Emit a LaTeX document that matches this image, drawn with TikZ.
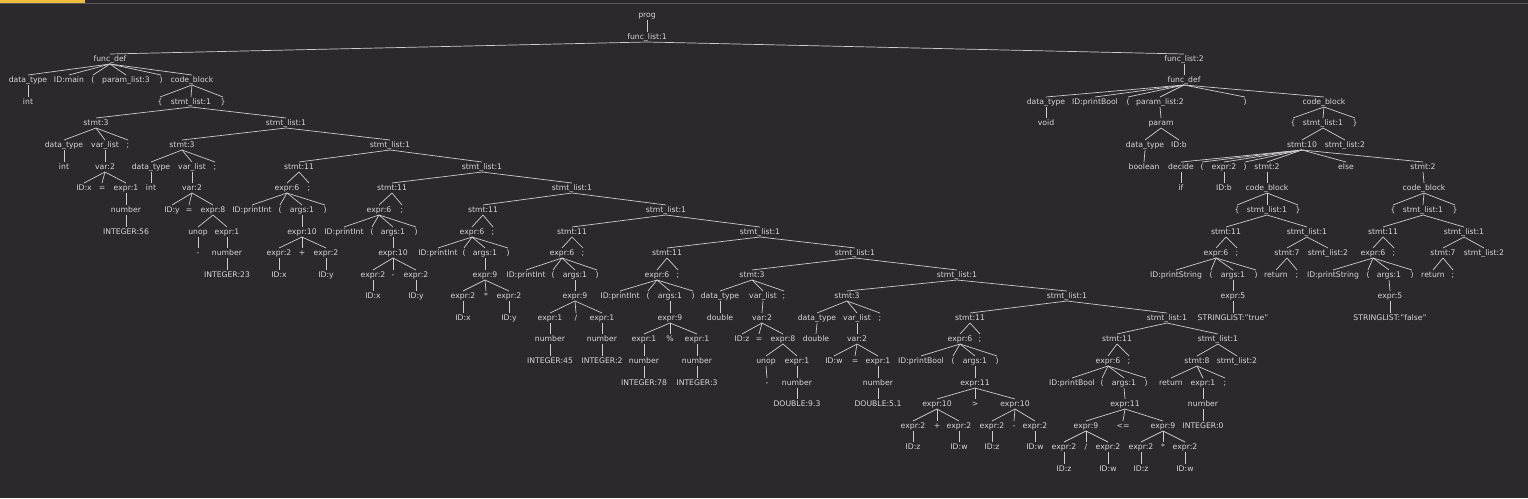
\documentclass[tikz,border=0pt]{standalone}
\usepackage{fontspec}
\setmainfont{DejaVu Sans}
\definecolor{bgcol}{RGB}{43,41,45}
\definecolor{txtcol}{RGB}{214,214,214}
\definecolor{linecol}{RGB}{205,205,205}
\definecolor{tabcol}{RGB}{240,190,60}
\definecolor{barcol}{RGB}{88,86,90}
\tikzset{
  tok/.style={text=txtcol, font=\fontsize{7.7}{8}\selectfont, inner sep=0.8pt, text height=6.5pt, text depth=1.5pt},
  every edge/.style={draw=linecol, line width=0.7pt}
}

\begin{document}
\begin{tikzpicture}[x=1pt,y=-1pt]
\fill[bgcol] (0,0) rectangle (1528,498);
\useasboundingbox (0,0) rectangle (1528,498);
\fill[barcol] (0,2.8) rectangle (1528,3.9);
\fill[tabcol] (0,0) rectangle (85,2.7);

\node[tok] (prog) at (647,15) {prog};
\node[tok] (fl1) at (647,37) {func\_list:1};

\node[tok] (fdA) at (110,59) {func\_def};
\node[tok] (dtA) at (28,80) {data\_type};
\node[tok] (idA) at (69,80) {ID:main};
\node[tok] (lpA) at (93,80) {(};
\node[tok] (plA) at (126,80) {param\_list:3};
\node[tok] (rpA) at (161,80) {)};
\node[tok] (cbA) at (192,80) {code\_block};
\node[tok] (tyA) at (28,102) {int};
\node[tok] (lbA) at (160,102) {\{};
\node[tok] (sl0) at (191,102) {stmt\_list:1};
\node[tok] (rbA) at (223,102) {\}};

\node[tok] (st0) at (96,123) {stmt:3};
\node[tok] (sl1) at (286,123) {stmt\_list:1};
\node[tok] (st0dt) at (64,145) {data\_type};
\node[tok] (st0vl) at (105,145) {var\_list};
\node[tok] (st0sc) at (128,145) {;};
\node[tok] (st0ty) at (64,167) {int};
\node[tok] (st0var) at (105,167) {var:2};
\node[tok] (st0id) at (84,188) {ID:x};
\node[tok] (st0eq) at (102,188) {=};
\node[tok] (st0ex) at (126,188) {expr:1};
\node[tok] (st0num) at (126,210) {number};
\node[tok] (st0lit) at (126,232) {INTEGER:56};

\node[tok] (st1) at (182,145) {stmt:3};
\node[tok] (sl2) at (390,145) {stmt\_list:1};
\node[tok] (st1dt) at (151,167) {data\_type};
\node[tok] (st1vl) at (192,167) {var\_list};
\node[tok] (st1sc) at (215,167) {;};
\node[tok] (st1ty) at (151,188) {int};
\node[tok] (st1var) at (192,188) {var:2};
\node[tok] (st1id) at (172,210) {ID:y};
\node[tok] (st1eq) at (189,210) {=};
\node[tok] (st1ex) at (213,210) {expr:8};
\node[tok] (st1un) at (198,232) {unop};
\node[tok] (st1e1) at (227,232) {expr:1};
\node[tok] (st1neg) at (198,253) {-};
\node[tok] (st1num) at (227,253) {number};
\node[tok] (st1lit) at (227,275) {INTEGER:23};

\node[tok] (st2) at (299,167) {stmt:11};
\node[tok] (sl3) at (482,167) {stmt\_list:1};
\node[tok] (st2ex) at (287,188) {expr:6};
\node[tok] (st2sc) at (309,188) {;};
\node[tok] (st2fn) at (252,210) {ID:printInt};
\node[tok] (st2lp) at (280,210) {(};
\node[tok] (st2ar) at (302,210) {args:1};
\node[tok] (st2rp) at (325,210) {)};
\node[tok] (st2op) at (302,232) {expr:10};
\node[tok] (st2a) at (279,253) {expr:2};
\node[tok] (st2o) at (302,253) {+};
\node[tok] (st2b) at (326,253) {expr:2};
\node[tok] (st2ai) at (279,275) {ID:x};
\node[tok] (st2bi) at (326,275) {ID:y};

\node[tok] (st3) at (392,188) {stmt:11};
\node[tok] (sl4) at (572,188) {stmt\_list:1};
\node[tok] (st3ex) at (379,210) {expr:6};
\node[tok] (st3sc) at (402,210) {;};
\node[tok] (st3fn) at (344,232) {ID:printInt};
\node[tok] (st3lp) at (372,232) {(};
\node[tok] (st3ar) at (393,232) {args:1};
\node[tok] (st3rp) at (416,232) {)};
\node[tok] (st3op) at (393,253) {expr:10};
\node[tok] (st3a) at (373,275) {expr:2};
\node[tok] (st3o) at (393,275) {-};
\node[tok] (st3b) at (416,275) {expr:2};
\node[tok] (st3ai) at (373,296) {ID:x};
\node[tok] (st3bi) at (416,296) {ID:y};

\node[tok] (st4) at (483,210) {stmt:11};
\node[tok] (sl5) at (666,210) {stmt\_list:1};
\node[tok] (st4ex) at (472,232) {expr:6};
\node[tok] (st4sc) at (493,232) {;};
\node[tok] (st4fn) at (438,253) {ID:printInt};
\node[tok] (st4lp) at (464,253) {(};
\node[tok] (st4ar) at (485,253) {args:1};
\node[tok] (st4rp) at (508,253) {)};
\node[tok] (st4op) at (485,275) {expr:9};
\node[tok] (st4a) at (463,296) {expr:2};
\node[tok] (st4o) at (486,296) {*};
\node[tok] (st4b) at (509,296) {expr:2};
\node[tok] (st4ai) at (463,318) {ID:x};
\node[tok] (st4bi) at (509,318) {ID:y};

\node[tok] (st5) at (572,232) {stmt:11};
\node[tok] (sl6) at (760,232) {stmt\_list:1};
\node[tok] (st5ex) at (562,253) {expr:6};
\node[tok] (st5sc) at (583,253) {;};
\node[tok] (st5fn) at (526,275) {ID:printInt};
\node[tok] (st5lp) at (553,275) {(};
\node[tok] (st5ar) at (575,275) {args:1};
\node[tok] (st5rp) at (597,275) {)};
\node[tok] (st5op) at (575,296) {expr:9};
\node[tok] (st5a) at (550,318) {expr:1};
\node[tok] (st5o) at (576,318) {/};
\node[tok] (st5b) at (602,318) {expr:1};
\node[tok] (st5an) at (550,339) {number};
\node[tok] (st5bn) at (602,339) {number};
\node[tok] (st5al) at (550,361) {INTEGER:45};
\node[tok] (st5bl) at (602,361) {INTEGER:2};

\node[tok] (st6) at (667,253) {stmt:11};
\node[tok] (sl7) at (855,253) {stmt\_list:1};
\node[tok] (st6ex) at (657,275) {expr:6};
\node[tok] (st6sc) at (678,275) {;};
\node[tok] (st6fn) at (620,296) {ID:printInt};
\node[tok] (st6lp) at (648,296) {(};
\node[tok] (st6ar) at (670,296) {args:1};
\node[tok] (st6rp) at (693,296) {)};
\node[tok] (st6op) at (670,318) {expr:9};
\node[tok] (st6a) at (644,339) {expr:1};
\node[tok] (st6o) at (670,339) {\%};
\node[tok] (st6b) at (697,339) {expr:1};
\node[tok] (st6an) at (644,361) {number};
\node[tok] (st6bn) at (697,361) {number};
\node[tok] (st6al) at (644,383) {INTEGER:78};
\node[tok] (st6bl) at (697,383) {INTEGER:3};

\node[tok] (st7) at (752,275) {stmt:3};
\node[tok] (sl8) at (957,275) {stmt\_list:1};
\node[tok] (st7dt) at (720,296) {data\_type};
\node[tok] (st7vl) at (763,296) {var\_list};
\node[tok] (st7sc) at (784,296) {;};
\node[tok] (st7ty) at (720,318) {double};
\node[tok] (st7var) at (762,318) {var:2};
\node[tok] (st7id) at (742,339) {ID:z};
\node[tok] (st7eq) at (759,339) {=};
\node[tok] (st7ex) at (783,339) {expr:8};
\node[tok] (st7un) at (766,361) {unop};
\node[tok] (st7e1) at (797,361) {expr:1};
\node[tok] (st7neg) at (767,383) {-};
\node[tok] (st7num) at (797,383) {number};
\node[tok] (st7lit) at (797,404) {DOUBLE:9.3};

\node[tok] (st8) at (847,296) {stmt:3};
\node[tok] (sl9) at (1067,296) {stmt\_list:1};
\node[tok] (st8dt) at (817,318) {data\_type};
\node[tok] (st8vl) at (857,318) {var\_list};
\node[tok] (st8sc) at (880,318) {;};
\node[tok] (st8ty) at (816,339) {double};
\node[tok] (st8var) at (857,339) {var:2};
\node[tok] (st8id) at (834,361) {ID:w};
\node[tok] (st8eq) at (855,361) {=};
\node[tok] (st8ex) at (878,361) {expr:1};
\node[tok] (st8num) at (878,383) {number};
\node[tok] (st8lit) at (878,404) {DOUBLE:5.1};

\node[tok] (st9) at (970,318) {stmt:11};
\node[tok] (sl10) at (1167,318) {stmt\_list:1};
\node[tok] (st9ex) at (960,339) {expr:6};
\node[tok] (st9sc) at (980,339) {;};
\node[tok] (st9fn) at (921,361) {ID:printBool};
\node[tok] (st9lp) at (953,361) {(};
\node[tok] (st9ar) at (975,361) {args:1};
\node[tok] (st9rp) at (997,361) {)};
\node[tok] (st9op) at (975,383) {expr:11};
\node[tok] (st9a) at (937,404) {expr:10};
\node[tok] (st9o) at (975,404) {>};
\node[tok] (st9b) at (1015,404) {expr:10};
\node[tok] (st9aa) at (913,426) {expr:2};
\node[tok] (st9ao) at (937,426) {+};
\node[tok] (st9ab) at (959,426) {expr:2};
\node[tok] (st9ba) at (992,426) {expr:2};
\node[tok] (st9bo) at (1014,426) {-};
\node[tok] (st9bb) at (1035,426) {expr:2};
\node[tok] (st9aai) at (913,447) {ID:z};
\node[tok] (st9abi) at (959,447) {ID:w};
\node[tok] (st9bai) at (992,447) {ID:z};
\node[tok] (st9bbi) at (1035,447) {ID:w};

\node[tok] (st10) at (1117,339) {stmt:11};
\node[tok] (sl11) at (1218,339) {stmt\_list:1};
\node[tok] (st10ex) at (1108,361) {expr:6};
\node[tok] (st10sc) at (1129,361) {;};
\node[tok] (st10fn) at (1072,383) {ID:printBool};
\node[tok] (st10lp) at (1102,383) {(};
\node[tok] (st10ar) at (1124,383) {args:1};
\node[tok] (st10rp) at (1146,383) {)};
\node[tok] (st10op) at (1125,404) {expr:11};
\node[tok] (st10a) at (1086,426) {expr:9};
\node[tok] (st10o) at (1123,426) {<=};
\node[tok] (st10b) at (1163,426) {expr:9};
\node[tok] (st10aa) at (1064,447) {expr:2};
\node[tok] (st10ao) at (1086,447) {/};
\node[tok] (st10ab) at (1108,447) {expr:2};
\node[tok] (st10ba) at (1141,447) {expr:2};
\node[tok] (st10bo) at (1163,447) {*};
\node[tok] (st10bb) at (1185,447) {expr:2};
\node[tok] (st10aai) at (1064,469) {ID:z};
\node[tok] (st10abi) at (1108,469) {ID:w};
\node[tok] (st10bai) at (1141,469) {ID:z};
\node[tok] (st10bbi) at (1185,469) {ID:w};

\node[tok] (st11) at (1197,361) {stmt:8};
\node[tok] (sl12) at (1237,361) {stmt\_list:2};
\node[tok] (st11rt) at (1171,383) {return};
\node[tok] (st11ex) at (1203,383) {expr:1};
\node[tok] (st11sc) at (1225,383) {;};
\node[tok] (st11num) at (1203,404) {number};
\node[tok] (st11lit) at (1203,426) {INTEGER:0};

\node[tok] (fl2) at (1184,59) {func\_list:2};
\node[tok] (fdB) at (1184,80) {func\_def};
\node[tok] (dtB) at (1046,102) {data\_type};
\node[tok] (idB) at (1095,102) {ID:printBool};
\node[tok] (lpB) at (1128,102) {(};
\node[tok] (plB) at (1160,102) {param\_list:2};
\node[tok] (rpB) at (1245,102) {)};
\node[tok] (cbB) at (1324,102) {code\_block};
\node[tok] (tyB) at (1046,123) {void};
\node[tok] (parB) at (1161,123) {param};
\node[tok] (pdt) at (1145,145) {data\_type};
\node[tok] (pid) at (1179,145) {ID:b};
\node[tok] (pty) at (1144,167) {boolean};
\node[tok] (lbB) at (1293,123) {\{};
\node[tok] (slB) at (1323,123) {stmt\_list:1};
\node[tok] (rbB) at (1355,123) {\}};
\node[tok] (ifs) at (1302,145) {stmt:10};
\node[tok] (slB2) at (1345,145) {stmt\_list:2};
\node[tok] (dec) at (1181,167) {decide};
\node[tok] (ilp) at (1202,167) {(};
\node[tok] (icond) at (1224,167) {expr:2};
\node[tok] (irp) at (1245,167) {)};
\node[tok] (thn) at (1267,167) {stmt:2};
\node[tok] (els) at (1346,167) {else};
\node[tok] (oth) at (1423,167) {stmt:2};
\node[tok] (decif) at (1181,188) {if};
\node[tok] (condid) at (1224,188) {ID:b};

\node[tok] (tcb) at (1267,188) {code\_block};
\node[tok] (tlb) at (1237,210) {\{};
\node[tok] (tsl) at (1267,210) {stmt\_list:1};
\node[tok] (trb) at (1298,210) {\}};
\node[tok] (tst) at (1226,232) {stmt:11};
\node[tok] (tsl2) at (1307,232) {stmt\_list:1};
\node[tok] (tex) at (1216,253) {expr:6};
\node[tok] (tsc) at (1237,253) {;};
\node[tok] (tfn) at (1176,275) {ID:printString};
\node[tok] (tlp) at (1211,275) {(};
\node[tok] (tar) at (1233,275) {args:1};
\node[tok] (trp) at (1256,275) {)};
\node[tok] (tstr) at (1233,296) {expr:5};
\node[tok] (tlit) at (1233,318) {STRINGLIST:"true"};
\node[tok] (tret) at (1287,253) {stmt:7};
\node[tok] (tend) at (1328,253) {stmt\_list:2};
\node[tok] (tretk) at (1276,275) {return};
\node[tok] (tretsc) at (1297,275) {;};

\node[tok] (ecb) at (1424,188) {code\_block};
\node[tok] (elb) at (1393,210) {\{};
\node[tok] (esl) at (1423,210) {stmt\_list:1};
\node[tok] (erb) at (1455,210) {\}};
\node[tok] (est) at (1383,232) {stmt:11};
\node[tok] (esl2) at (1464,232) {stmt\_list:1};
\node[tok] (eex) at (1373,253) {expr:6};
\node[tok] (esc) at (1394,253) {;};
\node[tok] (efn) at (1333,275) {ID:printString};
\node[tok] (elp) at (1368,275) {(};
\node[tok] (ear) at (1389,275) {args:1};
\node[tok] (erp) at (1412,275) {)};
\node[tok] (estr) at (1390,296) {expr:5};
\node[tok] (elit) at (1390,318) {STRINGLIST:"false"};
\node[tok] (eret) at (1443,253) {stmt:7};
\node[tok] (eend) at (1484,253) {stmt\_list:2};
\node[tok] (eretk) at (1433,275) {return};
\node[tok] (eretsc) at (1453,275) {;};

\path (prog.south) edge (fl1.north);
\path (fl1.south) edge (fdA.north) edge (fl2.north);
\path (fdA.south) edge (dtA.north) edge (idA.north) edge (lpA.north) edge (plA.north) edge (rpA.north) edge (cbA.north);
\path (dtA.south) edge (tyA.north);
\path (cbA.south) edge (lbA.north) edge (sl0.north) edge (rbA.north);
\path (sl0.south) edge (st0.north) edge (sl1.north);
\path (sl1.south) edge (st1.north) edge (sl2.north);
\path (sl2.south) edge (st2.north) edge (sl3.north);
\path (sl3.south) edge (st3.north) edge (sl4.north);
\path (sl4.south) edge (st4.north) edge (sl5.north);
\path (sl5.south) edge (st5.north) edge (sl6.north);
\path (sl6.south) edge (st6.north) edge (sl7.north);
\path (sl7.south) edge (st7.north) edge (sl8.north);
\path (sl8.south) edge (st8.north) edge (sl9.north);
\path (sl9.south) edge (st9.north) edge (sl10.north);
\path (sl10.south) edge (st10.north) edge (sl11.north);
\path (sl11.south) edge (st11.north) edge (sl12.north);

\path (st0.south) edge (st0dt.north) edge (st0vl.north) edge (st0sc.north);
\path (st0dt.south) edge (st0ty.north);
\path (st0vl.south) edge (st0var.north);
\path (st0var.south) edge (st0id.north) edge (st0eq.north) edge (st0ex.north);
\path (st0ex.south) edge (st0num.north);
\path (st0num.south) edge (st0lit.north);

\path (st1.south) edge (st1dt.north) edge (st1vl.north) edge (st1sc.north);
\path (st1dt.south) edge (st1ty.north);
\path (st1vl.south) edge (st1var.north);
\path (st1var.south) edge (st1id.north) edge (st1eq.north) edge (st1ex.north);
\path (st1ex.south) edge (st1un.north) edge (st1e1.north);
\path (st1un.south) edge (st1neg.north);
\path (st1e1.south) edge (st1num.north);
\path (st1num.south) edge (st1lit.north);

\path (st2.south) edge (st2ex.north) edge (st2sc.north);
\path (st2ex.south) edge (st2fn.north) edge (st2lp.north) edge (st2ar.north) edge (st2rp.north);
\path (st2ar.south) edge (st2op.north);
\path (st2op.south) edge (st2a.north) edge (st2o.north) edge (st2b.north);
\path (st2a.south) edge (st2ai.north);
\path (st2b.south) edge (st2bi.north);

\path (st3.south) edge (st3ex.north) edge (st3sc.north);
\path (st3ex.south) edge (st3fn.north) edge (st3lp.north) edge (st3ar.north) edge (st3rp.north);
\path (st3ar.south) edge (st3op.north);
\path (st3op.south) edge (st3a.north) edge (st3o.north) edge (st3b.north);
\path (st3a.south) edge (st3ai.north);
\path (st3b.south) edge (st3bi.north);

\path (st4.south) edge (st4ex.north) edge (st4sc.north);
\path (st4ex.south) edge (st4fn.north) edge (st4lp.north) edge (st4ar.north) edge (st4rp.north);
\path (st4ar.south) edge (st4op.north);
\path (st4op.south) edge (st4a.north) edge (st4o.north) edge (st4b.north);
\path (st4a.south) edge (st4ai.north);
\path (st4b.south) edge (st4bi.north);

\path (st5.south) edge (st5ex.north) edge (st5sc.north);
\path (st5ex.south) edge (st5fn.north) edge (st5lp.north) edge (st5ar.north) edge (st5rp.north);
\path (st5ar.south) edge (st5op.north);
\path (st5op.south) edge (st5a.north) edge (st5o.north) edge (st5b.north);
\path (st5a.south) edge (st5an.north);
\path (st5b.south) edge (st5bn.north);
\path (st5an.south) edge (st5al.north);
\path (st5bn.south) edge (st5bl.north);

\path (st6.south) edge (st6ex.north) edge (st6sc.north);
\path (st6ex.south) edge (st6fn.north) edge (st6lp.north) edge (st6ar.north) edge (st6rp.north);
\path (st6ar.south) edge (st6op.north);
\path (st6op.south) edge (st6a.north) edge (st6o.north) edge (st6b.north);
\path (st6a.south) edge (st6an.north);
\path (st6b.south) edge (st6bn.north);
\path (st6an.south) edge (st6al.north);
\path (st6bn.south) edge (st6bl.north);

\path (st7.south) edge (st7dt.north) edge (st7vl.north) edge (st7sc.north);
\path (st7dt.south) edge (st7ty.north);
\path (st7vl.south) edge (st7var.north);
\path (st7var.south) edge (st7id.north) edge (st7eq.north) edge (st7ex.north);
\path (st7ex.south) edge (st7un.north) edge (st7e1.north);
\path (st7un.south) edge (st7neg.north);
\path (st7e1.south) edge (st7num.north);
\path (st7num.south) edge (st7lit.north);

\path (st8.south) edge (st8dt.north) edge (st8vl.north) edge (st8sc.north);
\path (st8dt.south) edge (st8ty.north);
\path (st8vl.south) edge (st8var.north);
\path (st8var.south) edge (st8id.north) edge (st8eq.north) edge (st8ex.north);
\path (st8ex.south) edge (st8num.north);
\path (st8num.south) edge (st8lit.north);

\path (st9.south) edge (st9ex.north) edge (st9sc.north);
\path (st9ex.south) edge (st9fn.north) edge (st9lp.north) edge (st9ar.north) edge (st9rp.north);
\path (st9ar.south) edge (st9op.north);
\path (st9op.south) edge (st9a.north) edge (st9o.north) edge (st9b.north);
\path (st9a.south) edge (st9aa.north) edge (st9ao.north) edge (st9ab.north);
\path (st9b.south) edge (st9ba.north) edge (st9bo.north) edge (st9bb.north);
\path (st9aa.south) edge (st9aai.north);
\path (st9ab.south) edge (st9abi.north);
\path (st9ba.south) edge (st9bai.north);
\path (st9bb.south) edge (st9bbi.north);

\path (st10.south) edge (st10ex.north) edge (st10sc.north);
\path (st10ex.south) edge (st10fn.north) edge (st10lp.north) edge (st10ar.north) edge (st10rp.north);
\path (st10ar.south) edge (st10op.north);
\path (st10op.south) edge (st10a.north) edge (st10o.north) edge (st10b.north);
\path (st10a.south) edge (st10aa.north) edge (st10ao.north) edge (st10ab.north);
\path (st10b.south) edge (st10ba.north) edge (st10bo.north) edge (st10bb.north);
\path (st10aa.south) edge (st10aai.north);
\path (st10ab.south) edge (st10abi.north);
\path (st10ba.south) edge (st10bai.north);
\path (st10bb.south) edge (st10bbi.north);

\path (st11.south) edge (st11rt.north) edge (st11ex.north) edge (st11sc.north);
\path (st11ex.south) edge (st11num.north);
\path (st11num.south) edge (st11lit.north);

\path (fl2.south) edge (fdB.north);
\path (fdB.south) edge (dtB.north) edge (idB.north) edge (lpB.north) edge (plB.north) edge (rpB.north) edge (cbB.north);
\path (dtB.south) edge (tyB.north);
\path (plB.south) edge (parB.north);
\path (parB.south) edge (pdt.north) edge (pid.north);
\path (pdt.south) edge (pty.north);
\path (cbB.south) edge (lbB.north) edge (slB.north) edge (rbB.north);
\path (slB.south) edge (ifs.north) edge (slB2.north);
\path (ifs.south) edge (dec.north) edge (ilp.north) edge (icond.north) edge (irp.north) edge (thn.north) edge (els.north) edge (oth.north);
\path (dec.south) edge (decif.north);
\path (icond.south) edge (condid.north);

\path (thn.south) edge (tcb.north);
\path (tcb.south) edge (tlb.north) edge (tsl.north) edge (trb.north);
\path (tsl.south) edge (tst.north) edge (tsl2.north);
\path (tst.south) edge (tex.north) edge (tsc.north);
\path (tex.south) edge (tfn.north) edge (tlp.north) edge (tar.north) edge (trp.north);
\path (tar.south) edge (tstr.north);
\path (tstr.south) edge (tlit.north);
\path (tsl2.south) edge (tret.north) edge (tend.north);
\path (tret.south) edge (tretk.north) edge (tretsc.north);

\path (oth.south) edge (ecb.north);
\path (ecb.south) edge (elb.north) edge (esl.north) edge (erb.north);
\path (esl.south) edge (est.north) edge (esl2.north);
\path (est.south) edge (eex.north) edge (esc.north);
\path (eex.south) edge (efn.north) edge (elp.north) edge (ear.north) edge (erp.north);
\path (ear.south) edge (estr.north);
\path (estr.south) edge (elit.north);
\path (esl2.south) edge (eret.north) edge (eend.north);
\path (eret.south) edge (eretk.north) edge (eretsc.north);
\end{tikzpicture}
\end{document}
